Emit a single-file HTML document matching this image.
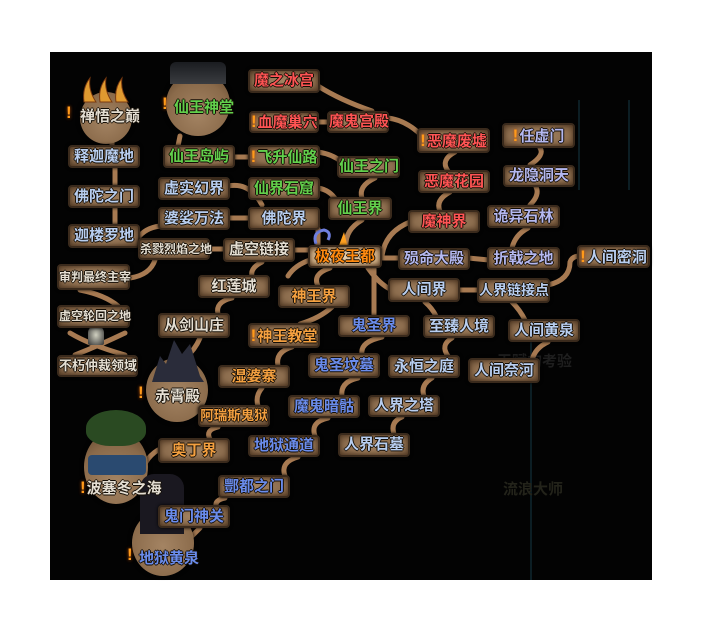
<!DOCTYPE html>
<html><head><meta charset="utf-8">
<style>
html,body{margin:0;padding:0;background:#fff;}
#c{position:relative;width:703px;height:634px;overflow:hidden;background:#fff;}
#bg{position:absolute;left:50px;top:52px;width:602px;height:528px;background:#030303;}
.n{position:absolute;box-sizing:border-box;border-radius:4px;
 background:radial-gradient(ellipse at 50% 50%,#a48463 0%,#8c6d4e 60%,#654a32 100%);
 border:2px solid #3a2a1c;box-shadow:0 0 3px #000, inset 0 0 5px #4a3420;
 font-family:"Liberation Sans","Noto Sans CJK SC","WenQuanYi Zen Hei",sans-serif;
 font-size:15px;font-weight:bold;text-align:center;white-space:nowrap;
 text-shadow:-1px 0 #140e06,1px 0 #140e06,0 -1px #140e06,0 1px #140e06;}
.r{color:#ff5454}.g{color:#62d04c}.l{color:#b4b8f0}.b{color:#6a8cec}.w{color:#e4ded2}.o{color:#f4a040}.lb{color:#b8cef0}
.ex{color:#ff9a1a;font-weight:bold;font-size:17px;margin-right:1px;text-shadow:0 0 3px #c05000;}
.circ{position:absolute;border-radius:50%;background:radial-gradient(circle at 50% 55%,#a48463,#8a6a4a 70%,#5a4028);box-shadow:0 0 4px #000;}
.t{position:absolute;font-family:"Liberation Sans","Noto Sans CJK SC",sans-serif;font-size:15px;font-weight:bold;white-space:nowrap;text-shadow:-1px 0 #140e06,1px 0 #140e06,0 -1px #140e06,0 1px #140e06;}
.s{font-size:14px}
</style></head><body><div id="c">
<div id="bg"></div>
<div style="position:absolute;left:530px;top:330px;width:2px;height:250px;background:#0c1e24"></div>
<div style="position:absolute;left:578px;top:100px;width:2px;height:90px;background:#0c1e24"></div>
<div style="position:absolute;left:628px;top:100px;width:2px;height:90px;background:#0c1e24"></div>
<div class="t" style="left:497px;top:350px;color:#1e1e1e;font-size:15px;text-shadow:none">天赋的考验</div>
<div class="t" style="left:503px;top:478px;color:#23231a;font-size:15px;text-shadow:none">流浪大师</div>

<svg style="position:absolute;left:0;top:0" width="703" height="634" fill="none" stroke="#a77a52" stroke-width="5" stroke-linecap="round">
<g>
<path d="M318 86 Q340 100 372 111"/>
<path d="M318 122 L329 122"/>
<path d="M388 118 Q405 120 420 134"/>
<path d="M455 152 Q440 160 448 171"/>
<path d="M450 192 Q435 200 440 211"/>
<path d="M410 222 Q385 232 382 256"/>
<path d="M180 136 L178 146"/>
<path d="M234 157 L250 157"/>
<path d="M318 152 Q332 154 342 162"/>
<path d="M375 178 Q358 186 362 198"/>
<path d="M318 188 Q330 190 336 200"/>
<path d="M362 220 Q345 230 346 246"/>
<path d="M228 186 Q250 182 262 205"/>
<path d="M228 218 L250 218"/>
<path d="M318 229 L318 246"/>
<path d="M160 226 Q145 228 138 238"/>
<path d="M112 140 L112 146"/>
<path d="M115 167 L115 186"/>
<path d="M115 207 L115 224"/>
<path d="M208 249 L225 249"/>
<path d="M293 250 L310 250"/>
<path d="M155 260 Q150 275 130 278"/>
<path d="M80 290 Q105 295 118 306"/>
<path d="M70 333 Q90 345 125 355"/>
<path d="M125 333 Q100 345 75 355"/>
<path d="M262 262 Q250 268 252 276"/>
<path d="M232 298 Q215 302 218 314"/>
<path d="M200 338 Q195 350 185 358"/>
<path d="M330 268 Q312 274 318 286"/>
<path d="M332 307 Q320 318 300 324"/>
<path d="M292 347 Q275 352 278 366"/>
<path d="M262 388 Q255 396 258 406"/>
<path d="M218 427 Q205 430 210 439"/>
<path d="M158 450 Q150 455 146 462"/>
<path d="M374 268 L374 316"/>
<path d="M382 337 Q360 342 362 354"/>
<path d="M358 378 Q340 382 342 396"/>
<path d="M328 418 Q310 422 315 436"/>
<path d="M298 457 Q280 462 285 476"/>
<path d="M225 498 Q215 500 216 506"/>
<path d="M200 528 Q192 536 188 540"/>
<path d="M380 258 L400 258"/>
<path d="M468 258 L489 260"/>
<path d="M512 248 Q515 235 528 228"/>
<path d="M530 205 Q540 195 536 187"/>
<path d="M530 165 Q545 155 540 148"/>
<path d="M368 268 Q380 285 392 290"/>
<path d="M458 290 L479 290"/>
<path d="M548 285 Q570 280 570 262 Q572 256 580 256"/>
<path d="M425 302 Q432 308 436 316"/>
<path d="M512 302 Q520 310 525 320"/>
<path d="M452 338 Q440 345 448 356"/>
<path d="M432 378 Q420 385 424 396"/>
<path d="M402 417 Q390 422 394 434"/>
<path d="M548 342 Q535 348 532 360"/>
<path d="M310 260 Q295 265 288 276"/>
</g>
</svg>

<div class="circ" style="left:80px;top:92px;width:52px;height:52px"></div>
<svg style="position:absolute;left:80px;top:74px" width="54" height="30"><g fill="#e09a30" stroke="#7a3a10" stroke-width="1"><path d="M4 28 Q2 14 10 4 Q8 16 16 28Z"/><path d="M20 28 Q18 14 26 4 Q24 16 32 28Z"/><path d="M36 28 Q34 14 42 4 Q40 16 48 28Z"/></g></svg>
<div class="circ" style="left:166px;top:72px;width:64px;height:64px;background:radial-gradient(circle at 50% 65%,#a48463,#8a6a4a 60%,#5a4028)"></div>
<div style="position:absolute;left:170px;top:62px;width:56px;height:22px;background:linear-gradient(#1a1c20,#3a3c40);border-radius:6px 6px 0 0"></div>
<div class="circ" style="left:146px;top:358px;width:62px;height:64px"></div>
<svg style="position:absolute;left:148px;top:336px" width="60" height="46"><path d="M4 46 L12 20 L18 28 L26 4 L34 18 L42 8 L52 40 L56 46Z" fill="#2a2c3a"/></svg>
<div class="circ" style="left:84px;top:430px;width:64px;height:74px;background:radial-gradient(circle at 50% 70%,#a48463,#8a6a4a 60%,#5a4028)"></div>
<div style="position:absolute;left:86px;top:410px;width:60px;height:36px;border-radius:50% 50% 40% 40%;background:#2a4a22"></div>
<div style="position:absolute;left:88px;top:455px;width:58px;height:20px;background:#2a4a70;border-radius:4px"></div>
<div class="circ" style="left:132px;top:510px;width:62px;height:66px"></div>
<div style="position:absolute;left:140px;top:474px;width:44px;height:60px;background:#1a1820;border-radius:14px 14px 0 0"></div>

<div class="t w" style="left:66px;top:103px"><span class="ex">!</span></div>
<div class="t w" style="left:80px;top:105px">禅悟之巅</div>
<div class="t g" style="left:174px;top:96px">仙王神堂</div>
<div class="t" style="left:162px;top:94px"><span class="ex">!</span></div>
<div class="t w" style="left:155px;top:385px">赤霄殿</div>
<div class="t" style="left:138px;top:383px"><span class="ex">!</span></div>
<div class="t w" style="left:80px;top:477px"><span class="ex">!</span>波塞冬之海</div>
<div class="t b" style="left:139px;top:547px">地狱黄泉</div>
<div class="t" style="left:127px;top:545px"><span class="ex">!</span></div>
<div style="position:absolute;left:88px;top:325px;width:16px;height:20px;border-radius:8px 8px 2px 2px;background:radial-gradient(#d0d0c0,#303030)"></div>
<svg style="position:absolute;left:310px;top:226px" width="40" height="24"><path d="M6 18 Q2 6 14 4 Q22 6 18 14" stroke="#7080e0" stroke-width="3" fill="none"/><path d="M28 22 L34 6 L38 22Z" fill="#ffa020"/></svg>

<div class="n r" style="left:248px;top:69px;width:72px;height:24px;line-height:20px">魔之冰宫</div>
<div class="n r" style="left:249px;top:111px;width:70px;height:22px;line-height:18px"><span class="ex">!</span>血魔巢穴</div>
<div class="n r" style="left:327px;top:111px;width:62px;height:22px;line-height:18px">魔鬼宫殿</div>
<div class="n lb" style="left:68px;top:145px;width:72px;height:23px;line-height:19px">释迦魔地</div>
<div class="n g" style="left:163px;top:145px;width:72px;height:23px;line-height:19px">仙王岛屿</div>
<div class="n g" style="left:248px;top:145px;width:72px;height:23px;line-height:19px"><span class="ex">!</span>飞升仙路</div>
<div class="n g" style="left:337px;top:156px;width:63px;height:22px;line-height:18px">仙王之门</div>
<div class="n lb" style="left:68px;top:185px;width:72px;height:23px;line-height:19px">佛陀之门</div>
<div class="n lb" style="left:158px;top:177px;width:72px;height:23px;line-height:19px">虚实幻界</div>
<div class="n g" style="left:248px;top:177px;width:72px;height:23px;line-height:19px">仙界石窟</div>
<div class="n g" style="left:328px;top:197px;width:64px;height:23px;line-height:19px">仙王界</div>
<div class="n lb" style="left:158px;top:207px;width:72px;height:23px;line-height:19px">婆娑万法</div>
<div class="n lb" style="left:248px;top:207px;width:72px;height:23px;line-height:19px">佛陀界</div>
<div class="n lb" style="left:68px;top:224px;width:72px;height:24px;line-height:20px">迦楼罗地</div>
<div class="n w" style="left:138px;top:238px;width:72px;height:22px;line-height:18px;font-size:12px">杀戮烈焰之地</div>
<div class="n w" style="left:223px;top:238px;width:72px;height:24px;line-height:20px">虚空链接</div>
<div class="n o" style="left:308px;top:245px;width:74px;height:23px;line-height:19px;background:radial-gradient(ellipse,#e8d0b0,#c8a880 70%,#8a6a4a);color:#ff8a10">极夜王都</div>
<div class="n w" style="left:57px;top:264px;width:73px;height:26px;line-height:22px;font-size:12px">审判最终主宰</div>
<div class="n w" style="left:198px;top:275px;width:72px;height:23px;line-height:19px">红莲城</div>
<div class="n o" style="left:278px;top:285px;width:72px;height:23px;line-height:19px">神王界</div>
<div class="n w" style="left:57px;top:305px;width:73px;height:23px;line-height:19px;font-size:12px">虚空轮回之地</div>
<div class="n w" style="left:158px;top:313px;width:72px;height:25px;line-height:21px">从剑山庄</div>
<div class="n o" style="left:248px;top:323px;width:72px;height:25px;line-height:21px"><span class="ex">!</span>神王教堂</div>
<div class="n b" style="left:338px;top:315px;width:72px;height:22px;line-height:18px">鬼圣界</div>
<div class="n w" style="left:57px;top:355px;width:81px;height:22px;line-height:18px;font-size:13px">不朽仲裁领域</div>
<div class="n o" style="left:218px;top:365px;width:72px;height:23px;line-height:19px">湿婆寨</div>
<div class="n b" style="left:308px;top:353px;width:72px;height:25px;line-height:21px">鬼圣坟墓</div>
<div class="n lb" style="left:388px;top:355px;width:72px;height:23px;line-height:19px">永恒之庭</div>
<div class="n o" style="left:198px;top:405px;width:72px;height:22px;line-height:18px;font-size:13.5px">阿瑞斯鬼狱</div>
<div class="n b" style="left:288px;top:395px;width:72px;height:23px;line-height:19px">魔鬼暗骷</div>
<div class="n lb" style="left:368px;top:395px;width:72px;height:22px;line-height:18px">人界之塔</div>
<div class="n o" style="left:158px;top:438px;width:72px;height:25px;line-height:21px">奥丁界</div>
<div class="n b" style="left:248px;top:435px;width:72px;height:22px;line-height:18px">地狱通道</div>
<div class="n lb" style="left:338px;top:433px;width:72px;height:24px;line-height:20px">人界石墓</div>
<div class="n b" style="left:218px;top:475px;width:72px;height:23px;line-height:19px">酆都之门</div>
<div class="n b" style="left:158px;top:505px;width:72px;height:23px;line-height:19px">鬼门神关</div>
<div class="n r" style="left:417px;top:128px;width:73px;height:25px;line-height:21px"><span class="ex">!</span>恶魔废墟</div>
<div class="n l" style="left:502px;top:123px;width:73px;height:25px;line-height:21px"><span class="ex">!</span>任虚门</div>
<div class="n r" style="left:418px;top:170px;width:72px;height:23px;line-height:19px">恶魔花园</div>
<div class="n l" style="left:503px;top:165px;width:72px;height:22px;line-height:18px">龙隐洞天</div>
<div class="n r" style="left:408px;top:210px;width:72px;height:23px;line-height:19px">魔神界</div>
<div class="n l" style="left:487px;top:205px;width:73px;height:23px;line-height:19px">诡异石林</div>
<div class="n l" style="left:398px;top:248px;width:72px;height:22px;line-height:18px">殒命大殿</div>
<div class="n l" style="left:487px;top:247px;width:73px;height:23px;line-height:19px">折戟之地</div>
<div class="n lb" style="left:577px;top:245px;width:73px;height:23px;line-height:19px"><span class="ex">!</span>人间密洞</div>
<div class="n lb" style="left:388px;top:278px;width:72px;height:24px;line-height:20px">人间界</div>
<div class="n lb" style="left:477px;top:278px;width:73px;height:25px;line-height:21px;font-size:14px">人界链接点</div>
<div class="n lb" style="left:423px;top:315px;width:72px;height:23px;line-height:19px">至臻人境</div>
<div class="n lb" style="left:508px;top:319px;width:72px;height:23px;line-height:19px">人间黄泉</div>
<div class="n lb" style="left:468px;top:358px;width:72px;height:25px;line-height:21px">人间奈河</div>
</div></body></html>
